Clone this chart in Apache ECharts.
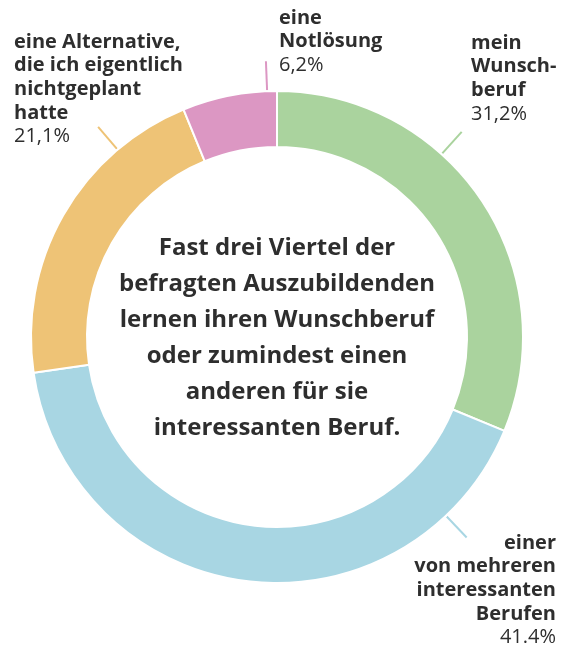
<!DOCTYPE html>
<html>
<head>
<meta charset="utf-8">
<script src="https://cdn.jsdelivr.net/npm/echarts@6/dist/echarts.min.js"></script>
<style>
  html, body { margin: 0; padding: 0; background: #ffffff; }
  #chart { width: 574px; height: 645px; }
</style>
</head>
<body>
<div id="chart"></div>
<script>
// Ausbildungsberuf: Wie würdest du deinen Ausbildungsberuf beschreiben?
const categories = [
  'mein\nWunsch-\nberuf',
  'einer\nvon mehreren\ninteressanten\nBerufen',
  'eine Alternative,\ndie ich eigentlich\nnichtgeplant\nhatte',
  'eine\nNotlösung'
];
const shares = [31.2, 41.4, 21.1, 6.2];
const decimalMarks = [',', '.', ',', ','];
const headline = [
  'Fast drei Viertel der',
  'befragten Auszubildenden',
  'lernen ihren Wunschberuf',
  'oder zumindest einen',
  'anderen für sie',
  'interessanten Beruf.'
];

const colors = ['#aad39e', '#a8d6e3', '#eec376', '#dc97c3'];
const FONT = '"Open Sans"';
const CX = 277, CY = 337, R_IN = 190, R_OUT = 246;

// label anchors and leader-line angles (degrees clockwise from 12 o'clock)
const labelPlacement = [
  { x: 471, y: 31, align: 'left', verticalAlign: 'top' },
  { x: 556, y: 531, align: 'right', verticalAlign: 'top' },
  { x: 14, y: 30, align: 'left', verticalAlign: 'top' },
  { x: 279, y: 6, align: 'left', verticalAlign: 'top' }
];
const leaderAngles = [42, 136.6, 319.6, 357.7];
const LEADER_LEN = 30;

function fmtShare(i) {
  return String(shares[i].toFixed(1)).replace('.', decimalMarks[i]) + '%';
}

const chart = echarts.init(document.getElementById('chart'), null, { renderer: 'canvas' });

const leaders = leaderAngles.map(function (a, i) {
  const t = a * Math.PI / 180;
  const r1 = R_OUT + 1, r2 = R_OUT + LEADER_LEN;
  return {
    type: 'line',
    silent: true,
    shape: {
      x1: CX + r1 * Math.sin(t), y1: CY - r1 * Math.cos(t),
      x2: CX + r2 * Math.sin(t), y2: CY - r2 * Math.cos(t)
    },
    style: { stroke: colors[i], lineWidth: 2 }
  };
});

chart.setOption({
  backgroundColor: '#ffffff',
  animation: false,
  color: colors,
  graphic: leaders.concat([{
    type: 'text',
    x: CX,
    y: CY + 1,
    style: {
      text: headline.join('\n'),
      fill: '#2e2e2e',
      font: 'bold 24px ' + FONT,
      lineHeight: 36,
      align: 'center',
      verticalAlign: 'middle'
    }
  }]),
  series: [{
    type: 'pie',
    center: [CX, CY],
    radius: [R_IN, R_OUT],
    startAngle: 90,
    clockwise: true,
    avoidLabelOverlap: false,
    itemStyle: { borderColor: '#ffffff', borderWidth: 2 },
    label: {
      show: true,
      position: 'outside',
      formatter: function (p) {
        const lines = p.name.split('\n').map(function (s) { return '{b|' + s + '}'; });
        lines.push('{v|' + fmtShare(p.dataIndex) + '}');
        return lines.join('\n');
      },
      rich: {
        b: { fontFamily: FONT, fontWeight: 'bold', fontSize: 20, color: '#2e2e2e', lineHeight: 23.7 },
        v: { fontFamily: FONT, fontWeight: 'normal', fontSize: 20, color: '#2e2e2e', lineHeight: 23.7 }
      }
    },
    labelLine: { show: false },
    labelLayout: function (params) {
      const p = labelPlacement[params.dataIndex];
      return { x: p.x, y: p.y, align: p.align, verticalAlign: p.verticalAlign };
    },
    emphasis: { disabled: true },
    data: categories.map(function (c, i) {
      return {
        name: c,
        value: shares[i],
        label: { align: labelPlacement[i].align }
      };
    })
  }]
});
</script>
</body>
</html>
